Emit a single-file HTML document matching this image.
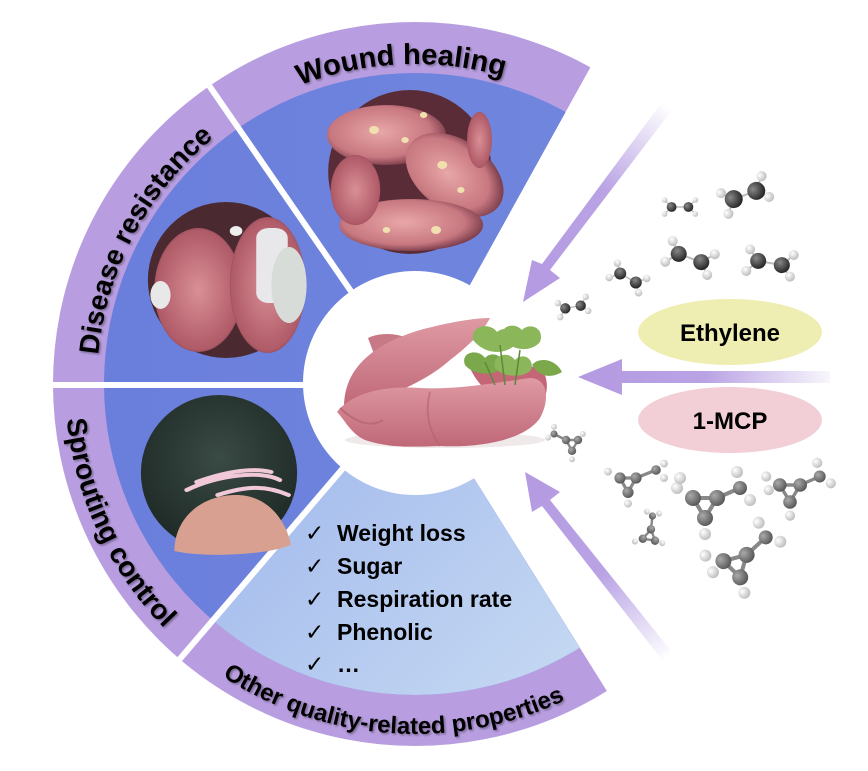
<!DOCTYPE html>
<html><head><meta charset="utf-8"><style>
html,body{margin:0;padding:0;background:#fff;}
svg{display:block;font-family:"Liberation Sans",Arial,sans-serif;}
</style></head><body>
<svg width="868" height="771" viewBox="0 0 868 771" xmlns="http://www.w3.org/2000/svg">
<defs>
 <clipPath id="fan"><polygon points="415,384 657,-53 -10,-53 -10,808 680,808"/></clipPath>
 <clipPath id="outer"><circle cx="415" cy="384" r="362"/></clipPath>
 <clipPath id="other"><polygon points="415,384 25,840 733,893"/></clipPath>
 <linearGradient id="og" x1="0" y1="0" x2="1" y2="1">
  <stop offset="0" stop-color="#7f92e2"/><stop offset="0.55" stop-color="#adc3ee"/><stop offset="1" stop-color="#cfe2f4"/>
 </linearGradient>
 <linearGradient id="blueg" x1="0" y1="0" x2="1" y2="0">
  <stop offset="0" stop-color="#6a7edc"/><stop offset="1" stop-color="#7289de"/>
 </linearGradient>
 <linearGradient id="a1" x1="660" y1="100" x2="522" y2="290" gradientUnits="userSpaceOnUse">
  <stop offset="0" stop-color="#b9a3e4" stop-opacity="0"/><stop offset="0.45" stop-color="#b9a3e4"/><stop offset="1" stop-color="#b49ae2"/>
 </linearGradient>
 <linearGradient id="a2" x1="830" y1="377" x2="580" y2="377" gradientUnits="userSpaceOnUse">
  <stop offset="0" stop-color="#b9a3e4" stop-opacity="0.1"/><stop offset="0.5" stop-color="#b9a3e4"/><stop offset="1" stop-color="#b49ae2"/>
 </linearGradient>
 <linearGradient id="a3" x1="660" y1="665" x2="522" y2="470" gradientUnits="userSpaceOnUse">
  <stop offset="0" stop-color="#b9a3e4" stop-opacity="0"/><stop offset="0.45" stop-color="#b9a3e4"/><stop offset="1" stop-color="#b49ae2"/>
 </linearGradient>
 <linearGradient id="potg" x1="0" y1="0" x2="0" y2="1">
  <stop offset="0" stop-color="#df9aa4"/><stop offset="1" stop-color="#c06878"/>
 </linearGradient>
 <radialGradient id="pot1" cx="0.45" cy="0.45" r="0.6">
  <stop offset="0" stop-color="#e8a7a8"/><stop offset="0.7" stop-color="#c87880"/><stop offset="1" stop-color="#6a3040"/>
 </radialGradient>
 <radialGradient id="pot2" cx="0.5" cy="0.5" r="0.6">
  <stop offset="0" stop-color="#d98f95"/><stop offset="0.8" stop-color="#b05b68"/><stop offset="1" stop-color="#502030"/>
 </radialGradient>
 <radialGradient id="sp" cx="0.5" cy="0.4" r="0.6">
  <stop offset="0" stop-color="#3a4a44"/><stop offset="1" stop-color="#1e2a26"/>
 </radialGradient>
 <radialGradient id="ball" cx="0.35" cy="0.35" r="0.7">
  <stop offset="0" stop-color="#888"/><stop offset="1" stop-color="#222"/>
 </radialGradient>
 <radialGradient id="hb" cx="0.35" cy="0.35" r="0.7">
  <stop offset="0" stop-color="#fff"/><stop offset="1" stop-color="#bbb"/>
 </radialGradient>
 <radialGradient id="gb" cx="0.35" cy="0.35" r="0.7">
  <stop offset="0" stop-color="#aaa"/><stop offset="1" stop-color="#555"/>
 </radialGradient>
 <filter id="sh" x="-10%" y="-10%" width="120%" height="130%"><feDropShadow dx="1.5" dy="1.5" stdDeviation="1" flood-color="#000" flood-opacity="0.35"/></filter>
 <path id="pWound" d="M198.8,148.1 A320,320 0 0 1 609.8,130.1"/>
 <path id="pDis" d="M110.9,477 A318,318 0 0 1 322,79.9"/>
 <path id="pSpr" d="M86.1,264.3 A350,350 0 0 0 295.3,712.9"/>
 <path id="pOth" d="M150.9,613.6 A350,350 0 0 0 644.6,648.1"/>
</defs>

<g clip-path="url(#fan)">
 <circle cx="415" cy="384" r="362" fill="#b89ee0"/>
 <circle cx="415" cy="384" r="311" fill="url(#blueg)"/>
 <g clip-path="url(#other)"><circle cx="415" cy="384" r="311" fill="url(#og)"/></g>
</g>
<g clip-path="url(#outer)" stroke="#fff" stroke-width="6">
 <line x1="415" y1="384" x2="188" y2="55"/>
 <line x1="415" y1="385" x2="15" y2="385"/>
 <line x1="415" y1="384" x2="155" y2="688"/>
</g>
<circle cx="415" cy="383" r="112" fill="#fff"/>

<g transform="translate(410,172) scale(1.24,1) translate(-329,-172)">
 <ellipse cx="329" cy="172" rx="66" ry="82" fill="#5a2c38"/>
 <ellipse cx="310" cy="135" rx="48" ry="30" fill="url(#pot1)"/>
 <ellipse cx="365" cy="175" rx="32" ry="48" fill="url(#pot1)" transform="rotate(-40 365 175)"/>
 <ellipse cx="330" cy="225" rx="58" ry="26" fill="url(#pot1)"/>
 <ellipse cx="285" cy="190" rx="20" ry="35" fill="url(#pot2)"/>
 <ellipse cx="385" cy="140" rx="10" ry="28" fill="url(#pot2)"/>
 <g fill="#f0e0b0"><circle cx="300" cy="130" r="4"/><circle cx="340" cy="115" r="3"/><circle cx="355" cy="165" r="4"/><circle cx="370" cy="190" r="3"/><circle cx="325" cy="140" r="3"/><circle cx="310" cy="230" r="3"/><circle cx="350" cy="230" r="4"/></g>
</g>
<g transform="translate(226,280) scale(1.26,1) translate(-182,-280)">
 <ellipse cx="182" cy="280" rx="62" ry="78" fill="#4a2a30"/>
 <ellipse cx="160" cy="290" rx="35" ry="62" fill="url(#pot2)"/>
 <ellipse cx="215" cy="285" rx="30" ry="68" fill="url(#pot2)"/>
 <rect x="206" y="228" width="25" height="75" rx="10" fill="#e8e8ea"/>
 <ellipse cx="232" cy="285" rx="14" ry="38" fill="#d8dcd8"/>
 <ellipse cx="130" cy="295" rx="8" ry="14" fill="#e8e8e8"/>
 <circle cx="190" cy="231" r="5" fill="#eee"/>
</g>
<g transform="translate(219,473) scale(1.24,1) translate(-176,-473)">
 <ellipse cx="176" cy="473" rx="63" ry="78" fill="url(#sp)"/>
 <path d="M140,551 C140,520 160,495 190,495 C215,495 230,520 234,545 C215,555 165,558 140,551Z" fill="#d8a090"/>
 <path d="M150,490 C175,475 210,470 225,480 M158,482 C185,470 205,468 218,472 M175,495 C200,485 215,486 232,495" stroke="#f0c8d8" stroke-width="4" fill="none" stroke-linecap="round"/>
</g>

<!-- center sweet potatoes -->
<g>
 <ellipse cx="445" cy="440" rx="100" ry="8" fill="#e8e0e0" opacity="0.7"/>
 <path d="M368,338 C380,332 400,333 410,340 L380,370 Z" fill="#c77a86"/>
 <path d="M344,405 C345,370 370,345 420,330 C450,322 475,318 490,318 C484,330 470,345 450,360 C430,378 400,392 370,402 C360,406 350,408 344,405Z" fill="url(#potg)"/>
 <path d="M470,368 C495,355 530,360 545,375 C550,390 545,405 530,415 C500,405 480,390 470,368Z" fill="#c46676"/>
 <path d="M337,412 C350,395 380,385 420,388 C460,390 500,382 530,378 C548,378 550,400 540,418 C525,440 480,448 440,446 C410,447 390,448 365,440 C350,433 345,420 337,412Z" fill="url(#potg)"/>
 <path d="M340,408 C355,422 370,428 383,420" stroke="#b86a78" stroke-width="2" fill="none"/>
 <path d="M430,392 C425,410 428,430 440,446" stroke="#b86070" stroke-width="2" fill="none" opacity="0.6"/>
 <g fill="#8cb65a">
  <path d="M473,340 C470,325 490,322 497,332 C505,325 520,330 515,345 C505,355 485,355 473,340Z"/>
  <path d="M502,338 C500,325 515,322 522,330 C530,322 545,328 540,342 C532,352 512,352 502,338Z"/>
  <path d="M465,365 C460,352 478,348 485,358 C492,350 506,356 502,368 C495,376 474,376 465,365Z" fill="#7aa84a"/>
  <path d="M495,368 C492,355 508,350 515,360 C522,352 535,358 531,370 C524,378 503,378 495,368Z"/>
  <path d="M532,365 C538,357 555,358 562,372 C552,378 540,378 532,365Z" fill="#7aa84a"/>
 </g>
 <path d="M500,345 L505,385 M520,350 L515,385 M485,362 L495,385" stroke="#5a8a3a" stroke-width="1.5"/>
</g>

<g font-weight="bold" font-size="29" fill="#000" filter="url(#sh)">
 <text><textPath href="#pWound" startOffset="50%" text-anchor="middle">Wound healing</textPath></text>
 <text font-size="28"><textPath href="#pDis" startOffset="50%" text-anchor="middle">Disease resistance</textPath></text>
 <text font-size="28"><textPath href="#pSpr" startOffset="50%" text-anchor="middle">Sprouting control</textPath></text>
 <text font-size="24"><textPath href="#pOth" startOffset="50%" text-anchor="middle">Other quality-related properties</textPath></text>
</g>

<g font-size="23" font-weight="bold" fill="#000">
 <text x="305" y="541" font-weight="normal" font-family="DejaVu Sans">✓</text><text x="337" y="541">Weight loss</text>
 <text x="305" y="574" font-weight="normal" font-family="DejaVu Sans">✓</text><text x="337" y="574">Sugar</text>
 <text x="305" y="607" font-weight="normal" font-family="DejaVu Sans">✓</text><text x="337" y="607">Respiration rate</text>
 <text x="305" y="640" font-weight="normal" font-family="DejaVu Sans">✓</text><text x="337" y="640">Phenolic</text>
 <text x="305" y="672" font-weight="normal" font-family="DejaVu Sans">✓</text><text x="337" y="672">…</text>
</g>

<g>
 <polygon points="662,102 672,110 550,270 560,278 523,302 532,260 542,264" fill="url(#a1)"/>
 <polygon points="830,371 830,383 622,383 622,395 578,377 622,359 622,371" fill="url(#a2)"/>
 <polygon points="662,660 672,652 550,500 560,492 525,472 532,512 542,506" fill="url(#a3)"/>
</g>

<ellipse cx="730" cy="332" rx="92" ry="33" fill="#efeeb2"/>
<text x="730" y="341" font-size="24" font-weight="bold" text-anchor="middle">Ethylene</text>
<ellipse cx="730" cy="420" rx="92" ry="33" fill="#f2cfd6"/>
<text x="730" y="429" font-size="24" font-weight="bold" text-anchor="middle">1-MCP</text>

<g stroke="#bbb" stroke-width="2">
 <g transform="translate(680,207) scale(0.7)"><line x1="-12" y1="0" x2="12" y2="0"/><line x1="-12" y1="0" x2="-22" y2="-10"/><line x1="-12" y1="0" x2="-22" y2="10"/><line x1="12" y1="0" x2="22" y2="-10"/><line x1="12" y1="0" x2="22" y2="10"/><circle cx="-12" cy="0" r="7" fill="url(#ball)" stroke="none"/><circle cx="12" cy="0" r="7" fill="url(#ball)" stroke="none"/><circle cx="-22" cy="-10" r="4" fill="url(#hb)" stroke="none"/><circle cx="-22" cy="10" r="4" fill="url(#hb)" stroke="none"/><circle cx="22" cy="-10" r="4" fill="url(#hb)" stroke="none"/><circle cx="22" cy="10" r="4" fill="url(#hb)" stroke="none"/></g>
 <g transform="translate(745,195) rotate(-20)"><line x1="-12" y1="0" x2="12" y2="0"/><line x1="-12" y1="0" x2="-22" y2="-10"/><line x1="-12" y1="0" x2="-22" y2="12"/><line x1="12" y1="0" x2="22" y2="-12"/><line x1="12" y1="0" x2="22" y2="10"/><circle cx="-12" cy="0" r="9" fill="url(#ball)" stroke="none"/><circle cx="12" cy="0" r="9" fill="url(#ball)" stroke="none"/><circle cx="-22" cy="-10" r="5" fill="url(#hb)" stroke="none"/><circle cx="-22" cy="12" r="5" fill="url(#hb)" stroke="none"/><circle cx="22" cy="-12" r="5" fill="url(#hb)" stroke="none"/><circle cx="22" cy="10" r="5" fill="url(#hb)" stroke="none"/></g>
 <g transform="translate(690,258) rotate(20)"><line x1="-12" y1="0" x2="12" y2="0"/><line x1="-12" y1="0" x2="-22" y2="-10"/><line x1="-12" y1="0" x2="-22" y2="12"/><line x1="12" y1="0" x2="22" y2="-12"/><line x1="12" y1="0" x2="22" y2="10"/><circle cx="-12" cy="0" r="8" fill="url(#ball)" stroke="none"/><circle cx="12" cy="0" r="8" fill="url(#ball)" stroke="none"/><circle cx="-22" cy="-10" r="5" fill="url(#hb)" stroke="none"/><circle cx="-22" cy="12" r="5" fill="url(#hb)" stroke="none"/><circle cx="22" cy="-12" r="5" fill="url(#hb)" stroke="none"/><circle cx="22" cy="10" r="5" fill="url(#hb)" stroke="none"/></g>
 <g transform="translate(770,263) rotate(10)"><line x1="-12" y1="0" x2="12" y2="0"/><line x1="-12" y1="0" x2="-22" y2="-10"/><line x1="-12" y1="0" x2="-22" y2="12"/><line x1="12" y1="0" x2="22" y2="-12"/><line x1="12" y1="0" x2="22" y2="10"/><circle cx="-12" cy="0" r="8" fill="url(#ball)" stroke="none"/><circle cx="12" cy="0" r="8" fill="url(#ball)" stroke="none"/><circle cx="-22" cy="-10" r="5" fill="url(#hb)" stroke="none"/><circle cx="-22" cy="12" r="5" fill="url(#hb)" stroke="none"/><circle cx="22" cy="-12" r="5" fill="url(#hb)" stroke="none"/><circle cx="22" cy="10" r="5" fill="url(#hb)" stroke="none"/></g>
 <g transform="translate(628,278) rotate(30) scale(0.75)"><line x1="-12" y1="0" x2="12" y2="0"/><line x1="-12" y1="0" x2="-22" y2="-10"/><line x1="-12" y1="0" x2="-22" y2="12"/><line x1="12" y1="0" x2="22" y2="-12"/><line x1="12" y1="0" x2="22" y2="10"/><circle cx="-12" cy="0" r="8" fill="url(#ball)" stroke="none"/><circle cx="12" cy="0" r="8" fill="url(#ball)" stroke="none"/><circle cx="-22" cy="-10" r="5" fill="url(#hb)" stroke="none"/><circle cx="-22" cy="12" r="5" fill="url(#hb)" stroke="none"/><circle cx="22" cy="-12" r="5" fill="url(#hb)" stroke="none"/><circle cx="22" cy="10" r="5" fill="url(#hb)" stroke="none"/></g>
 <g transform="translate(573,307) rotate(-10) scale(0.65)"><line x1="-12" y1="0" x2="12" y2="0"/><line x1="-12" y1="0" x2="-22" y2="-10"/><line x1="-12" y1="0" x2="-22" y2="12"/><line x1="12" y1="0" x2="22" y2="-12"/><line x1="12" y1="0" x2="22" y2="10"/><circle cx="-12" cy="0" r="8" fill="url(#ball)" stroke="none"/><circle cx="12" cy="0" r="8" fill="url(#ball)" stroke="none"/><circle cx="-22" cy="-10" r="5" fill="url(#hb)" stroke="none"/><circle cx="-22" cy="12" r="5" fill="url(#hb)" stroke="none"/><circle cx="22" cy="-12" r="5" fill="url(#hb)" stroke="none"/><circle cx="22" cy="10" r="5" fill="url(#hb)" stroke="none"/></g>
</g>

<g stroke="#888" stroke-width="4" fill="none">
 <g transform="translate(572,440) scale(0.6)"><polygon points="-10,0 10,0 0,18"/><line x1="-10" y1="0" x2="-30" y2="-10"/><circle cx="-10" cy="0" r="7" fill="url(#gb)" stroke="none"/><circle cx="10" cy="0" r="7" fill="url(#gb)" stroke="none"/><circle cx="0" cy="18" r="7" fill="url(#gb)" stroke="none"/><circle cx="-30" cy="-10" r="6" fill="url(#gb)" stroke="none"/><circle cx="-40" cy="-4" r="5" fill="url(#hb)" stroke="none"/><circle cx="-30" cy="-22" r="5" fill="url(#hb)" stroke="none"/><circle cx="18" cy="-10" r="5" fill="url(#hb)" stroke="none"/><circle cx="0" cy="32" r="5" fill="url(#hb)" stroke="none"/></g>
 <g transform="translate(628,478) scale(0.8)"><polygon points="-10,0 10,0 0,18"/><line x1="10" y1="0" x2="35" y2="-10"/><circle cx="-10" cy="0" r="7" fill="url(#gb)" stroke="none"/><circle cx="10" cy="0" r="7" fill="url(#gb)" stroke="none"/><circle cx="0" cy="18" r="7" fill="url(#gb)" stroke="none"/><circle cx="35" cy="-10" r="6" fill="url(#gb)" stroke="none"/><circle cx="-25" cy="-8" r="5" fill="url(#hb)" stroke="none"/><circle cx="45" cy="-18" r="5" fill="url(#hb)" stroke="none"/><circle cx="45" cy="0" r="5" fill="url(#hb)" stroke="none"/><circle cx="0" cy="32" r="5" fill="url(#hb)" stroke="none"/></g>
 <g transform="translate(705,498)"><polygon points="-12,0 12,0 0,20"/><line x1="12" y1="0" x2="35" y2="-10"/><circle cx="-12" cy="0" r="8" fill="url(#gb)" stroke="none"/><circle cx="12" cy="0" r="8" fill="url(#gb)" stroke="none"/><circle cx="0" cy="20" r="8" fill="url(#gb)" stroke="none"/><circle cx="35" cy="-10" r="7" fill="url(#gb)" stroke="none"/><circle cx="-28" cy="-10" r="6" fill="url(#hb)" stroke="none"/><circle cx="-25" cy="-20" r="6" fill="url(#hb)" stroke="none"/><circle cx="32" cy="-26" r="6" fill="url(#hb)" stroke="none"/><circle cx="45" cy="2" r="6" fill="url(#hb)" stroke="none"/><circle cx="0" cy="36" r="6" fill="url(#hb)" stroke="none"/></g>
 <g transform="translate(790,485) scale(0.85)"><polygon points="-12,0 12,0 0,20"/><line x1="12" y1="0" x2="35" y2="-10"/><circle cx="-12" cy="0" r="8" fill="url(#gb)" stroke="none"/><circle cx="12" cy="0" r="8" fill="url(#gb)" stroke="none"/><circle cx="0" cy="20" r="8" fill="url(#gb)" stroke="none"/><circle cx="35" cy="-10" r="7" fill="url(#gb)" stroke="none"/><circle cx="-28" cy="-10" r="6" fill="url(#hb)" stroke="none"/><circle cx="-25" cy="6" r="6" fill="url(#hb)" stroke="none"/><circle cx="32" cy="-26" r="6" fill="url(#hb)" stroke="none"/><circle cx="48" cy="-2" r="6" fill="url(#hb)" stroke="none"/><circle cx="0" cy="36" r="6" fill="url(#hb)" stroke="none"/></g>
 <g transform="translate(653,535) rotate(70) scale(0.6)"><polygon points="-10,0 10,0 0,18"/><line x1="-10" y1="0" x2="-30" y2="-10"/><circle cx="-10" cy="0" r="7" fill="url(#gb)" stroke="none"/><circle cx="10" cy="0" r="7" fill="url(#gb)" stroke="none"/><circle cx="0" cy="18" r="7" fill="url(#gb)" stroke="none"/><circle cx="-30" cy="-10" r="6" fill="url(#gb)" stroke="none"/><circle cx="-40" cy="-4" r="5" fill="url(#hb)" stroke="none"/><circle cx="-30" cy="-22" r="5" fill="url(#hb)" stroke="none"/><circle cx="18" cy="-10" r="5" fill="url(#hb)" stroke="none"/><circle cx="0" cy="32" r="5" fill="url(#hb)" stroke="none"/></g>
 <g transform="translate(735,558) rotate(-15)"><polygon points="-12,0 12,0 0,20"/><line x1="12" y1="0" x2="35" y2="-12"/><circle cx="-12" cy="0" r="8" fill="url(#gb)" stroke="none"/><circle cx="12" cy="0" r="8" fill="url(#gb)" stroke="none"/><circle cx="0" cy="20" r="8" fill="url(#gb)" stroke="none"/><circle cx="35" cy="-12" r="7" fill="url(#gb)" stroke="none"/><circle cx="-28" cy="-10" r="6" fill="url(#hb)" stroke="none"/><circle cx="-25" cy="8" r="6" fill="url(#hb)" stroke="none"/><circle cx="32" cy="-28" r="6" fill="url(#hb)" stroke="none"/><circle cx="48" cy="-4" r="6" fill="url(#hb)" stroke="none"/><circle cx="0" cy="36" r="6" fill="url(#hb)" stroke="none"/></g>
</g>
</svg>
</body></html>
